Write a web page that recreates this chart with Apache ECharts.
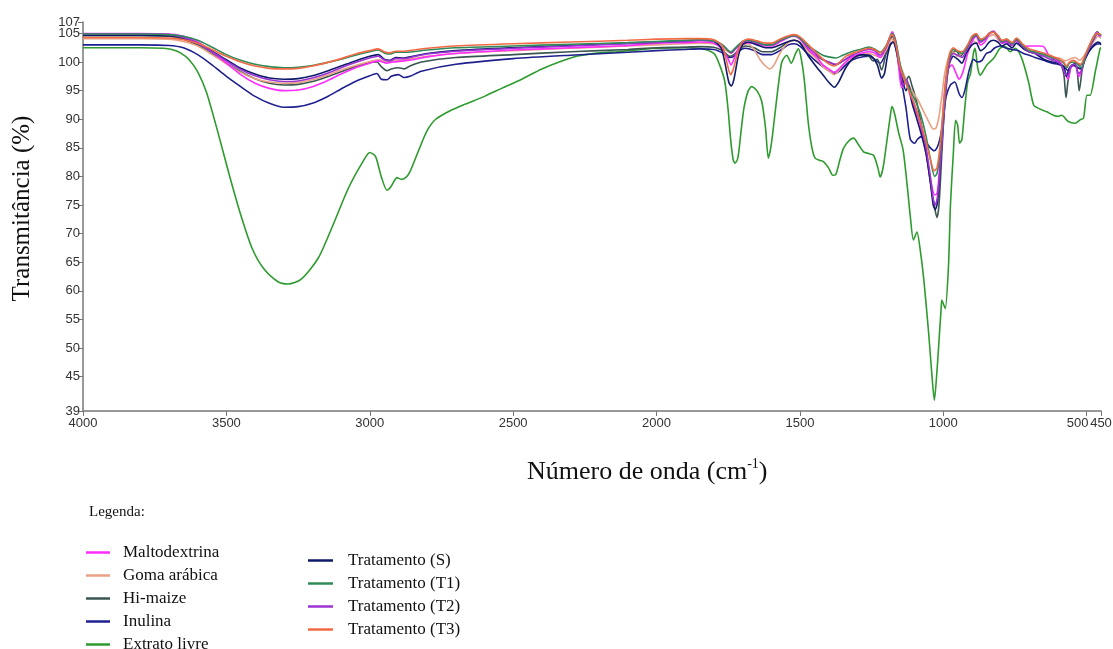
<!DOCTYPE html>
<html><head><meta charset="utf-8">
<script src="https://cdn.jsdelivr.net/npm/echarts@6/dist/echarts.min.js"></script>
<style>html,body{margin:0;padding:0;background:#fff}#c{width:1113px;height:649px}</style>
</head><body><div id="c"></div>
<script>
const seriesNames = ['Maltodextrina','Goma arábica','Hi-maize','Inulina','Extrato livre','Tratamento (S)','Tratamento (T1)','Tratamento (T2)','Tratamento (T3)'];
const xTicks = [4000,3500,3000,2500,2000,1500,1000,500,450];
const yTicks = [39,45,50,55,60,65,70,75,80,85,90,95,100,105];
const yTopTick = [107];

const maltodextrina = [[4000,105.0],[3800,105.0],[3700,104.9],[3650,104.5],[3600,103.5],[3550,101.8],[3500,99.8],[3450,97.8],[3400,96.3],[3350,95.4],[3300,95.0],[3250,95.1],[3200,95.7],[3150,96.7],[3100,97.9],[3050,99.0],[3000,99.8],[2970,100.2],[2940,99.8],[2920,100.0],[2880,100.2],[2850,100.4],[2800,100.9],[2700,101.5],[2500,102.1],[2300,102.5],[2100,102.9],[2000,103.3],[1900,103.4],[1850,103.5],[1800,103.3],[1770,102.2],[1750,100.5],[1740,99.5],[1730,100.5],[1710,102.8],[1690,103.4],[1650,103.2],[1620,102.8],[1600,102.8],[1570,103.5],[1540,104.3],[1520,104.5],[1500,104.0],[1470,102.2],[1440,100.8],[1420,99.5],[1400,98.8],[1380,98.2],[1360,99.0],[1330,100.5],[1300,101.3],[1260,101.8],[1240,101.6],[1220,100.8],[1200,102.5],[1185,104.5],[1178,105.3],[1165,103.5],[1155,99.0],[1145,95.5],[1130,96.5],[1115,94.0],[1100,92.0],[1080,89.0],[1060,84.0],[1045,79.5],[1030,76.8],[1022,77.0],[1015,80.0],[1005,88.0],[995,95.0],[985,98.5],[970,99.5],[955,98.0],[945,97.0],[930,98.5],[915,101.5],[900,103.5],[885,104.5],[870,103.0],[855,103.5],[840,104.8],[825,105.4],[810,104.5],[795,103.3],[780,103.5],[765,102.8],[750,103.8],[740,103.5],[725,102.7],[700,102.8],[670,102.8],[650,102.7],[630,101.0],[610,100.5],[590,99.8],[575,98.0],[565,97.0],[555,99.0],[540,99.5],[528,97.5],[518,98.5],[505,101.0],[490,102.5],[475,104.0],[465,105.2],[455,104.5],[450,104.8]];

const gomaArabica = [[4000,104.1],[3800,104.1],[3700,104.0],[3650,103.6],[3600,102.8],[3550,101.3],[3500,99.7],[3450,98.2],[3400,97.1],[3350,96.5],[3300,96.3],[3250,96.4],[3200,96.9],[3150,97.7],[3100,98.6],[3050,99.4],[3000,100.1],[2970,100.4],[2940,100.0],[2920,100.2],[2880,100.4],[2850,100.6],[2800,101.0],[2700,101.5],[2500,102.0],[2300,102.4],[2100,102.8],[2000,103.0],[1900,103.2],[1850,103.3],[1800,103.2],[1770,102.5],[1750,101.8],[1740,101.5],[1725,102.3],[1700,103.0],[1680,103.2],[1660,102.2],[1640,100.5],[1620,99.3],[1605,98.8],[1590,99.5],[1570,101.5],[1545,103.2],[1520,103.8],[1500,103.4],[1470,101.8],[1440,100.5],[1420,99.2],[1400,98.5],[1380,97.8],[1365,98.5],[1340,100.0],[1300,101.0],[1260,101.5],[1240,101.2],[1220,100.8],[1200,102.0],[1180,104.0],[1165,102.8],[1150,99.5],[1130,97.0],[1110,95.0],[1090,93.5],[1070,91.5],[1050,89.5],[1035,88.3],[1025,88.5],[1015,90.5],[1005,94.0],[995,98.0],[980,101.0],[965,101.8],[950,101.0],[935,101.5],[915,102.5],[900,103.8],[880,103.3],[860,103.8],[840,104.5],[825,104.8],[800,103.5],[780,103.8],[760,103.0],[745,103.8],[720,102.3],[700,101.8],[670,101.5],[640,101.0],[610,100.8],[590,100.6],[575,100.2],[560,100.5],[540,100.8],[525,100.3],[510,101.0],[490,102.5],[470,104.0],[460,104.5],[450,104.2]];

const hiMaize = [[4000,104.6],[3800,104.6],[3700,104.5],[3650,104.0],[3600,103.0],[3550,101.5],[3500,99.8],[3450,98.3],[3400,97.1],[3350,96.3],[3300,96.0],[3250,96.1],[3200,96.6],[3150,97.4],[3100,98.3],[3050,99.2],[3000,99.9],[2975,100.0],[2960,99.2],[2940,98.5],[2925,98.8],[2900,99.0],[2880,98.8],[2860,99.3],[2820,100.0],[2700,100.8],[2500,101.3],[2300,101.8],[2100,102.2],[2000,102.5],[1900,102.6],[1850,102.7],[1800,102.6],[1770,102.0],[1745,101.0],[1730,101.3],[1710,102.3],[1690,102.8],[1660,102.5],[1630,101.8],[1600,101.8],[1570,102.5],[1540,103.5],[1520,103.8],[1500,103.4],[1470,102.0],[1440,101.0],[1420,100.4],[1400,100.0],[1375,99.5],[1350,100.2],[1320,101.0],[1290,101.2],[1260,101.0],[1245,100.2],[1230,100.5],[1215,98.6],[1200,101.5],[1185,103.8],[1178,104.5],[1165,102.5],[1150,98.0],[1135,96.5],[1120,97.5],[1110,96.0],[1095,93.5],[1080,90.0],[1060,84.5],[1045,79.0],[1030,74.5],[1022,72.8],[1015,75.0],[1005,84.0],[995,93.0],[985,99.0],[970,101.5],[955,102.0],[940,101.0],[920,102.5],[900,104.2],[885,104.8],[870,103.8],[855,104.0],[840,105.0],[825,105.3],[810,104.5],[795,103.5],[780,104.0],[760,103.0],[745,104.0],[720,102.5],[700,101.8],[670,101.5],[640,101.2],[615,100.5],[595,100.0],[580,98.0],[572,93.8],[564,97.0],[550,99.5],[535,99.0],[526,95.0],[516,98.5],[505,101.0],[490,102.8],[475,104.5],[463,105.3],[455,104.8],[450,104.6]];

const inulina = [[4000,103.0],[3800,103.0],[3700,102.9],[3650,102.5],[3600,101.3],[3550,99.5],[3500,97.5],[3450,95.7],[3400,94.0],[3350,92.8],[3300,92.1],[3250,92.2],[3200,92.8],[3150,93.9],[3100,95.3],[3050,96.6],[3000,97.6],[2975,98.0],[2960,97.0],[2940,96.9],[2925,97.5],[2900,97.8],[2880,97.3],[2860,97.5],[2820,98.4],[2700,99.6],[2500,100.6],[2300,101.2],[2100,101.7],[2000,102.0],[1900,102.2],[1850,102.3],[1800,102.2],[1770,101.6],[1745,100.8],[1730,101.0],[1710,102.0],[1690,102.4],[1660,102.0],[1630,101.3],[1600,101.3],[1570,102.0],[1540,103.0],[1520,103.2],[1500,102.8],[1470,101.3],[1440,100.0],[1420,99.2],[1400,98.5],[1380,98.0],[1360,98.5],[1330,100.0],[1300,100.7],[1260,101.0],[1240,100.5],[1220,99.8],[1200,101.5],[1185,103.0],[1175,103.5],[1160,101.0],[1145,96.5],[1130,92.0],[1115,86.5],[1100,85.8],[1090,86.5],[1075,87.0],[1060,86.0],[1045,85.0],[1032,84.5],[1022,85.0],[1012,86.5],[1000,90.0],[990,94.0],[975,96.0],[960,96.5],[945,94.5],[935,93.8],[925,95.0],[910,98.5],[895,100.5],[880,100.0],[865,100.3],[850,101.5],[835,101.8],[820,102.5],[800,102.8],[780,102.4],[760,102.2],[740,102.0],[720,101.5],[700,101.2],[680,100.8],[650,100.3],[620,99.8],[600,99.6],[580,99.2],[565,98.5],[550,99.5],[535,99.8],[520,99.5],[505,101.0],[490,102.0],[470,103.0],[455,103.2],[450,103.0]];

const extratoLivre = [[4000,102.5],[3800,102.5],[3720,102.4],[3690,102.2],[3660,101.6],[3630,100.4],[3600,98.3],[3570,94.8],[3530,87.8],[3490,80.3],[3450,73.3],[3410,67.4],[3370,63.9],[3320,61.6],[3285,61.2],[3240,62.0],[3180,65.7],[3130,71.3],[3075,77.9],[3025,82.5],[3000,84.2],[2980,83.5],[2960,80.0],[2940,77.6],[2925,78.3],[2905,79.8],[2890,79.5],[2875,79.8],[2860,80.8],[2830,84.5],[2800,88.0],[2770,90.0],[2720,91.5],[2670,92.6],[2600,94.0],[2540,95.4],[2470,97.0],[2400,98.8],[2330,100.2],[2270,101.1],[2200,101.6],[2140,101.8],[2050,102.2],[2000,102.4],[1900,102.5],[1850,102.4],[1800,101.5],[1780,99.5],[1762,96.6],[1750,91.5],[1742,86.7],[1733,83.0],[1726,82.3],[1716,83.3],[1705,88.0],[1695,92.0],[1680,95.0],[1668,95.7],[1650,95.0],[1633,93.1],[1620,88.5],[1610,83.2],[1600,85.5],[1588,90.5],[1575,96.0],[1563,100.0],[1546,101.2],[1530,99.8],[1515,101.5],[1505,102.3],[1495,100.5],[1485,97.0],[1470,89.0],[1458,85.0],[1447,83.2],[1430,82.8],[1418,82.6],[1400,81.5],[1385,80.2],[1375,80.3],[1360,83.0],[1348,84.9],[1330,86.2],[1313,86.7],[1295,85.5],[1278,84.3],[1260,84.0],[1243,83.7],[1228,81.5],[1220,79.9],[1210,81.5],[1197,86.1],[1185,90.5],[1179,92.2],[1170,91.0],[1155,87.5],[1140,84.6],[1125,78.0],[1115,73.0],[1104,68.9],[1092,70.3],[1080,67.0],[1068,62.0],[1051,52.6],[1040,45.5],[1031,40.9],[1022,46.0],[1017,49.7],[1008,56.5],[1005,58.4],[998,57.5],[993,56.9],[982,64.2],[975,75.0],[965,84.0],[957,89.8],[950,89.0],[943,85.8],[935,86.5],[925,92.0],[915,96.5],[905,98.0],[895,101.5],[889,102.4],[880,99.0],[871,97.7],[860,98.5],[848,99.5],[825,100.6],[802,102.4],[784,102.7],[767,101.8],[749,102.4],[726,100.6],[703,96.6],[685,92.5],[668,91.9],[639,91.3],[616,90.7],[600,90.5],[587,90.7],[564,89.6],[540,89.3],[523,89.9],[511,90.2],[499,94.2],[488,94.2],[470,98.3],[453,102.4],[450,102.5]];

const tratamentoS = [[4000,104.7],[3800,104.7],[3700,104.6],[3650,104.2],[3600,103.3],[3550,101.9],[3500,100.4],[3450,98.9],[3400,97.9],[3350,97.2],[3300,97.0],[3250,97.1],[3200,97.6],[3150,98.4],[3100,99.3],[3050,100.2],[3000,101.0],[2970,101.3],[2950,100.5],[2930,100.3],[2910,100.8],[2880,100.7],[2850,101.0],[2800,101.5],[2700,102.0],[2500,102.5],[2300,102.9],[2100,103.3],[2000,103.5],[1900,103.7],[1850,103.8],[1800,103.6],[1775,102.5],[1760,99.5],[1748,96.5],[1740,95.8],[1730,97.0],[1715,101.0],[1700,103.0],[1680,103.5],[1650,103.0],[1620,102.5],[1600,102.5],[1570,103.0],[1540,103.6],[1520,103.8],[1500,103.4],[1470,101.0],[1440,99.0],[1420,97.8],[1400,96.5],[1380,95.6],[1365,96.5],[1340,99.0],[1310,100.8],[1280,101.3],[1250,101.0],[1230,99.5],[1215,97.2],[1205,98.0],[1195,101.0],[1185,103.0],[1175,103.5],[1160,101.5],[1145,97.5],[1130,95.0],[1120,96.0],[1110,93.0],[1095,90.5],[1080,88.0],[1060,84.0],[1045,79.0],[1035,75.0],[1028,74.2],[1020,75.5],[1010,82.0],[1000,90.0],[990,96.0],[980,99.5],[965,101.0],[950,100.5],[935,99.8],[920,101.5],[900,103.0],[885,103.3],[870,102.0],[855,102.5],[840,103.5],[825,103.8],[810,103.5],[795,102.8],[780,103.2],[760,102.5],[745,103.3],[720,102.3],[700,101.8],[680,101.5],[650,100.5],[620,100.0],[600,99.8],[580,99.2],[570,97.5],[560,99.0],[545,99.5],[530,99.0],[520,98.8],[505,100.5],[490,102.0],[475,103.0],[460,103.5],[450,103.2]];

const tratamentoT1 = [[4000,104.9],[3800,104.9],[3700,104.8],[3650,104.5],[3600,103.8],[3550,102.6],[3500,101.3],[3450,100.3],[3400,99.6],[3350,99.2],[3300,99.0],[3250,99.1],[3200,99.4],[3150,99.9],[3100,100.5],[3050,101.2],[3000,101.8],[2970,102.1],[2950,101.6],[2930,101.4],[2910,101.7],[2880,101.7],[2850,101.8],[2800,102.1],[2700,102.5],[2500,102.8],[2300,103.1],[2100,103.4],[2000,103.6],[1900,103.8],[1850,103.9],[1800,103.7],[1770,103.0],[1750,102.0],[1740,101.8],[1725,102.5],[1700,103.6],[1680,103.8],[1650,103.5],[1620,103.0],[1600,103.0],[1570,103.8],[1540,104.4],[1520,104.6],[1500,104.2],[1470,102.8],[1440,101.8],[1420,101.2],[1400,100.9],[1375,100.7],[1350,101.2],[1320,101.8],[1290,102.2],[1260,102.6],[1240,102.3],[1220,101.7],[1200,102.8],[1185,104.5],[1178,105.0],[1165,103.5],[1150,99.5],[1135,97.0],[1120,95.5],[1100,93.5],[1080,91.0],[1060,87.0],[1045,83.0],[1030,80.0],[1022,80.5],[1012,84.0],[1000,91.0],[990,97.0],[978,101.0],[965,102.2],[950,101.8],[935,101.5],[915,102.8],[900,104.3],[885,104.8],[870,103.8],[855,104.2],[840,105.0],[825,105.2],[810,104.6],[795,103.6],[780,103.9],[760,103.2],[745,104.0],[720,102.8],[700,102.0],[680,101.8],[650,101.3],[620,100.8],[600,100.5],[580,99.8],[570,99.0],[560,99.8],[545,100.0],[530,99.5],[518,99.0],[505,101.0],[490,102.8],[475,104.3],[462,105.0],[450,104.7]];

const tratamentoT2 = [[4000,104.9],[3800,104.9],[3700,104.8],[3650,104.3],[3600,103.3],[3550,101.8],[3500,100.2],[3450,98.7],[3400,97.6],[3350,96.9],[3300,96.6],[3250,96.7],[3200,97.2],[3150,98.0],[3100,99.0],[3050,99.9],[3000,100.7],[2970,101.0],[2950,100.4],[2930,100.2],[2910,100.6],[2880,100.6],[2850,100.9],[2800,101.4],[2700,101.9],[2500,102.4],[2300,102.8],[2100,103.2],[2000,103.4],[1900,103.6],[1850,103.8],[1800,103.6],[1770,103.0],[1750,102.0],[1740,101.6],[1725,102.3],[1700,103.5],[1680,103.7],[1650,103.4],[1620,103.0],[1600,103.0],[1570,103.7],[1540,104.4],[1520,104.6],[1500,104.2],[1470,102.5],[1440,101.3],[1420,100.5],[1400,100.0],[1375,99.6],[1350,100.2],[1320,101.2],[1290,101.8],[1260,102.2],[1240,102.0],[1220,101.2],[1200,102.5],[1185,104.5],[1178,105.0],[1165,103.0],[1150,98.5],[1140,96.0],[1128,97.0],[1115,94.5],[1100,92.5],[1080,89.5],[1060,85.0],[1045,80.0],[1035,76.0],[1028,75.0],[1020,76.5],[1012,81.0],[1000,89.0],[990,95.5],[980,99.5],[965,101.5],[950,101.2],[935,100.8],[915,102.5],[900,104.0],[885,104.6],[870,103.5],[855,104.0],[840,105.0],[825,105.3],[810,104.5],[795,103.4],[780,103.7],[760,103.0],[745,103.8],[720,102.6],[700,101.8],[680,101.5],[650,101.0],[620,100.3],[600,100.0],[585,99.2],[575,98.0],[565,97.7],[555,99.3],[540,99.6],[528,98.0],[518,98.5],[505,100.8],[490,102.5],[475,104.0],[462,104.9],[450,104.6]];

const tratamentoT3 = [[4000,104.3],[3800,104.3],[3700,104.2],[3650,103.9],[3600,103.3],[3550,102.2],[3500,101.0],[3450,100.0],[3400,99.3],[3350,98.9],[3300,98.8],[3250,98.9],[3200,99.3],[3150,99.9],[3100,100.6],[3050,101.4],[3000,102.0],[2970,102.3],[2950,101.8],[2930,101.6],[2910,101.9],[2880,101.9],[2850,102.1],[2800,102.4],[2700,102.8],[2500,103.2],[2300,103.5],[2100,103.8],[2000,104.0],[1900,104.1],[1850,104.1],[1800,103.9],[1770,102.8],[1755,100.0],[1742,97.8],[1732,98.8],[1715,102.0],[1700,103.6],[1680,104.0],[1650,103.7],[1620,103.3],[1600,103.3],[1570,104.0],[1540,104.6],[1520,104.8],[1500,104.4],[1470,103.0],[1440,101.5],[1420,100.5],[1400,99.7],[1380,99.3],[1365,99.8],[1340,101.0],[1300,101.8],[1260,102.4],[1240,102.2],[1220,101.6],[1200,102.7],[1185,104.5],[1178,104.8],[1165,103.0],[1150,99.0],[1135,96.8],[1120,95.0],[1100,92.5],[1080,89.5],[1060,86.0],[1045,83.0],[1032,81.0],[1022,81.5],[1012,85.0],[1000,92.0],[990,97.5],[978,101.5],[965,102.5],[950,102.0],[935,101.8],[915,103.0],[900,104.5],[885,105.0],[870,104.0],[855,104.3],[840,105.0],[825,105.2],[810,104.7],[795,103.8],[780,104.0],[760,103.4],[745,104.2],[720,103.0],[700,102.3],[680,102.0],[650,101.6],[620,101.0],[600,100.6],[580,100.0],[570,99.3],[560,100.0],[545,100.3],[530,99.8],[520,99.6],[505,101.3],[490,103.0],[475,104.5],[462,105.0],[450,104.8]];

const seriesData = [maltodextrina, gomaArabica, hiMaize, inulina, extratoLivre, tratamentoS, tratamentoT1, tratamentoT2, tratamentoT3];
const seriesColors = ['#ff2cff','#e9a083','#3b5652','#1f1f8f','#2e9b2e','#0f1a6a','#2e8b57','#9b34d2','#f26a45'];
const drawOrder = [4,3,2,1,0,5,7,6,8];

const chart = echarts.init(document.getElementById('c'), null, {renderer:'canvas'});
const serif = "'Liberation Serif','Times New Roman',serif";
const sans = "'Liberation Sans',Arial,sans-serif";

const baseY = {type: 'value', min: 39, max: 107, position: 'left', splitLine: {show: false}};

const option = {
  animation: false,
  backgroundColor: '#ffffff',
  title: [
    {text: 'Legenda:', left: 84, top: 500, textStyle: {fontFamily: serif, fontSize: 15, fontWeight: 'normal', color: '#111'}},
    {text: '{a|Número de onda (cm}{s|-1}{a|)}', left: 522, top: 452,
     textStyle: {fontWeight: 'normal', rich: {a: {fontFamily: serif, fontSize: 26, fontWeight: 'normal', color: '#111', lineHeight: 30}, s: {fontFamily: serif, fontSize: 14, fontWeight: 'normal', color: '#111', verticalAlign: 'top', lineHeight: 30}}}}
  ],
  legend: [
    {data: seriesNames.slice(0,5), orient: 'vertical', left: 86, top: 544, height: 140, padding: 0, itemGap: 6, itemWidth: 24, itemHeight: 2.5, icon: 'rect', selectedMode: false,
     textStyle: {fontFamily: serif, fontSize: 17, color: '#111', lineHeight: 16, padding: [0,0,0,8]}},
    {data: seriesNames.slice(5), orient: 'vertical', left: 308, top: 552, height: 140, padding: 0, itemGap: 6, itemWidth: 25, itemHeight: 2.5, icon: 'rect', selectedMode: false,
     textStyle: {fontFamily: serif, fontSize: 17, color: '#111', lineHeight: 16, padding: [0,0,0,10]}}
  ],
  grid: {left: 83, right: 12, top: 22, bottom: 238, containLabel: false, outerBoundsMode: 'none'},
  xAxis: {
    type: 'value', inverse: true, min: 450, max: 4000,
    axisLine: {show: true, onZero: false, lineStyle: {color: '#777', width: 1.5}},
    axisTick: {show: true, length: 5, customValues: xTicks, lineStyle: {color: '#777'}},
    axisLabel: {customValues: xTicks, margin: 6, fontFamily: sans, fontSize: 13, color: '#333', hideOverlap: false,
      formatter: v => v === 500 ? '{r|500}' : String(v),
      rich: {r: {fontFamily: sans, fontSize: 13, color: '#333', padding: [0,18,0,0]}}},
    splitLine: {show: false}
  },
  yAxis: [
    Object.assign({}, baseY, {
      name: 'Transmitância (%)', nameLocation: 'middle', nameGap: 48,
      nameTextStyle: {fontFamily: serif, fontSize: 25, color: '#111', padding: [0,0,0,16]},
      axisLine: {show: true, onZero: false, lineStyle: {color: '#777', width: 1.5}},
      axisTick: {show: true, length: 5, customValues: yTicks, lineStyle: {color: '#777'}},
      axisLabel: {customValues: yTicks, margin: 3, fontFamily: sans, fontSize: 13, color: '#333', hideOverlap: false}
    }),
    Object.assign({}, baseY, {
      axisLine: {show: false},
      axisTick: {show: true, length: 5, customValues: yTopTick, lineStyle: {color: '#777'}},
      axisLabel: {customValues: yTopTick, margin: 3, fontFamily: sans, fontSize: 13, color: '#333', showMaxLabel: true, hideOverlap: false}
    })
  ],
  series: drawOrder.map(i => ({
    name: seriesNames[i], type: 'line', data: seriesData[i], showSymbol: false, smooth: 0.25, yAxisIndex: 0,
    color: seriesColors[i], lineStyle: {width: 1.6, color: seriesColors[i]}, emphasis: {disabled: true}
  }))
};
chart.setOption(option);
</script></body></html>
